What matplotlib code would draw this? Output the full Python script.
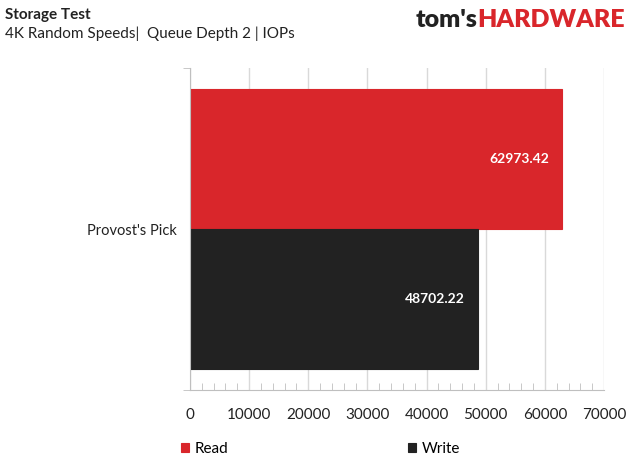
import matplotlib
matplotlib.use("Agg")
import matplotlib.pyplot as plt
from matplotlib.ticker import MultipleLocator, FixedLocator

plt.rcParams['font.family'] = ['Lato', 'DejaVu Sans']

# data
category = "Provost's Pick"
series = ["Read", "Write"]
values = [62973.42, 48702.22]
colors = ["#D9262B", "#222222"]
xticks = [0, 10000, 20000, 30000, 40000, 50000, 60000, 70000]

fig = plt.figure(figsize=(6.33, 4.74), dpi=100)
ax = fig.add_axes([190 / 633, 1 - 390 / 474, 414 / 633, 322 / 474])

bar_h = 0.435
offsets = [bar_h / 2, -bar_h / 2]
bars = []
for name, val, col, off in zip(series, values, colors, offsets):
    b = ax.barh(off, val, height=bar_h, color=col, label=name,
                edgecolor=col, linewidth=0.8)
    bars.append(b)
    ax.annotate(f"{val:.2f}", xy=(val, off), xytext=(-9.5, 0),
                textcoords="offset points", ha="right", va="center",
                color="white", fontweight="bold", fontsize=10)

ax.set_xlim(0, 70000)
ax.set_ylim(-0.5, 0.5)
ax.set_xticks(xticks)
ax.set_xticklabels([str(t) for t in xticks])
ax.xaxis.set_minor_locator(MultipleLocator(2000))
ax.grid(axis="x", which="major", color="#D9D9D9", linewidth=1)
ax.set_axisbelow(True)
ax.tick_params(axis="x", which="major", length=0, pad=13, labelsize=11, colors="#222222")
ax.tick_params(axis="x", which="minor", direction="in", length=5, color="#BFBFBF")

ax.set_yticks([0])
ax.set_yticklabels([category])
ax.yaxis.set_minor_locator(FixedLocator([-0.5, 0.5]))
ax.tick_params(axis="y", which="major", length=0, pad=9.5, labelsize=10.5, colors="#222222")
ax.tick_params(axis="y", which="minor", direction="out", length=5, color="#BFBFBF")

for s in ["top", "right"]:
    ax.spines[s].set_visible(False)
for s in ["left", "bottom"]:
    ax.spines[s].set_color("#BFBFBF")

fig.legend(handles=[b[0] for b in bars], labels=series, loc="center left",
           bbox_to_anchor=(181 / 633, 1 - 449 / 474), ncol=2, frameon=False,
           fontsize=11, handlelength=0.55, handleheight=0.55, handletextpad=0.35,
           columnspacing=11.75, borderpad=0, borderaxespad=0)

fig.text(5 / 633, 1 - 15 / 474, "Storage Test", fontsize=11, fontweight="bold",
         va="center", ha="left", color="#222222")
fig.text(5 / 633, 1 - 34 / 474, "4K Random Speeds|  Queue Depth 2 | IOPs", fontsize=11,
         va="center", ha="left", color="#222222")

hw = fig.text(625 / 633, 1 - 20 / 474, "HARDWARE", fontsize=18, fontweight="heavy",
              va="center", ha="right", color="#D9262B")
fig.canvas.draw()
ext = hw.get_window_extent()
fig.text(ext.x0 / fig.bbox.width, 1 - 20 / 474, "tom's", fontsize=18, fontweight="heavy",
         va="center", ha="right", color="#222222")

fig.savefig("out.png", dpi=100)
